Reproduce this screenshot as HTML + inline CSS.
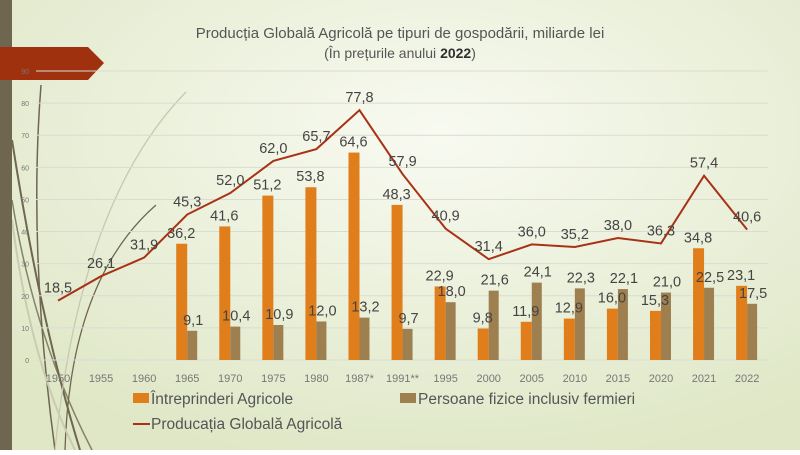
<!DOCTYPE html><html><head><meta charset="utf-8"><style>
body{margin:0;width:800px;height:450px;overflow:hidden;font-family:"Liberation Sans",sans-serif}
</style></head><body>
<svg id="s" width="800" height="450" xmlns="http://www.w3.org/2000/svg">
<defs><radialGradient id="g" cx="0.55" cy="0.3" r="0.75"><stop offset="0" stop-color="#f8faf1"/><stop offset="1" stop-color="#dfe7c6"/></radialGradient></defs>
<rect width="800" height="450" fill="url(#g)"/>
<g fill="none" stroke="#6f6650" stroke-width="1.3">
<path d="M41 85 Q28 250 55 450" stroke-width="1.5"/>
<path d="M12 140 Q40 320 80 450" stroke-width="2"/>
<path d="M12 200 Q35 340 92 450" stroke-width="1.5" opacity="0.8"/>
<path d="M156 205 Q70 280 65 450"/>
<path d="M186 92 Q80 200 55 450" stroke="#c8c8b0"/>
<path d="M12 220 Q30 360 75 450" stroke="#c8ccb0" stroke-width="2"/>
</g>
<rect x="0" y="0" width="12" height="450" fill="#6f6650"/>
<polygon points="0,47 88,47 104,63 88,80 0,80" fill="#a0310f"/>
<text x="400" y="38" text-anchor="middle" font-size="15" fill="#555">Producția Globală Agricolă pe tipuri de gospodării, miliarde lei</text>
<text x="400" y="58" text-anchor="middle" font-size="14" fill="#555">(În prețurile anului <tspan font-weight="bold" fill="#303030">2022</tspan>)</text>
<g id="c"></g>
</svg>
<script>
var c=document.getElementById('c'),h='';
var Y=v=>360-v*3.211, X=i=>58+i*43.07;
for(var k=0;k<=9;k++){h+='<line x1="36" x2="768" y1="'+Y(k*10)+'" y2="'+Y(k*10)+'" stroke="#dadcd0" stroke-width="1"/>';
h+='<text x="29" y="'+(Y(k*10)+3)+'" font-size="7" fill="#777" text-anchor="end">'+(k*10)+'</text>';}
var yrs=['1950','1955','1960','1965','1970','1975','1980','1987*','1991**','1995','2000','2005','2010','2015','2020','2021','2022'];
var A=[null,null,null,36.2,41.6,51.2,53.8,64.6,48.3,22.9,9.8,11.9,12.9,16.0,15.3,34.8,23.1];
var B=[null,null,null,9.1,10.4,10.9,12.0,13.2,9.7,18.0,21.6,24.1,22.3,22.1,21.0,22.5,17.5];
var L=[18.5,26.1,31.9,45.3,52.0,62.0,65.7,77.8,57.9,40.9,31.4,36.0,35.2,38.0,36.3,57.4,40.6];
var f=v=>v.toFixed(1).replace('.',',');
var pts=[];
yrs.forEach((y,i)=>{var x=X(i);
h+='<text x="'+x+'" y="382" font-size="11" fill="#777" text-anchor="middle">'+y+'</text>';
if(A[i]!=null){h+='<rect x="'+(x-11)+'" y="'+Y(A[i])+'" width="11" height="'+(A[i]*3.211)+'" fill="#df7e1a"/>';
h+='<rect x="'+x+'" y="'+Y(B[i])+'" width="10" height="'+(B[i]*3.211)+'" fill="#9e7f4f"/>';
h+='<text x="'+(x-6)+'" y="'+(Y(A[i])-6)+'" font-size="14.5" fill="#444" text-anchor="middle">'+f(A[i])+'</text>';
h+='<text x="'+(x+6)+'" y="'+(Y(B[i])-6)+'" font-size="14.5" fill="#444" text-anchor="middle">'+f(B[i])+'</text>';}
pts.push(x+','+Y(L[i]));});
h+='<polyline points="'+pts.join(' ')+'" fill="none" stroke="#a83215" stroke-width="2"/>';
L.forEach((v,i)=>{h+='<text x="'+X(i)+'" y="'+(Y(v)-8)+'" font-size="14.5" fill="#444" text-anchor="middle">'+f(v)+'</text>';});
h+='<rect x="133" y="393" width="16" height="10" fill="#df7e1a"/><text x="151" y="404" font-size="15.5" fill="#555">Întreprinderi Agricole</text>';
h+='<rect x="400" y="393" width="16" height="10" fill="#9e7f4f"/><text x="418" y="404" font-size="15.5" fill="#555">Persoane fizice inclusiv fermieri</text>';
h+='<line x1="133" x2="150" y1="424" y2="424" stroke="#a83215" stroke-width="2"/><text x="151" y="429" font-size="15.5" fill="#555">Producația Globală Agricolă</text>';
c.innerHTML=h;
</script>
</body></html>
